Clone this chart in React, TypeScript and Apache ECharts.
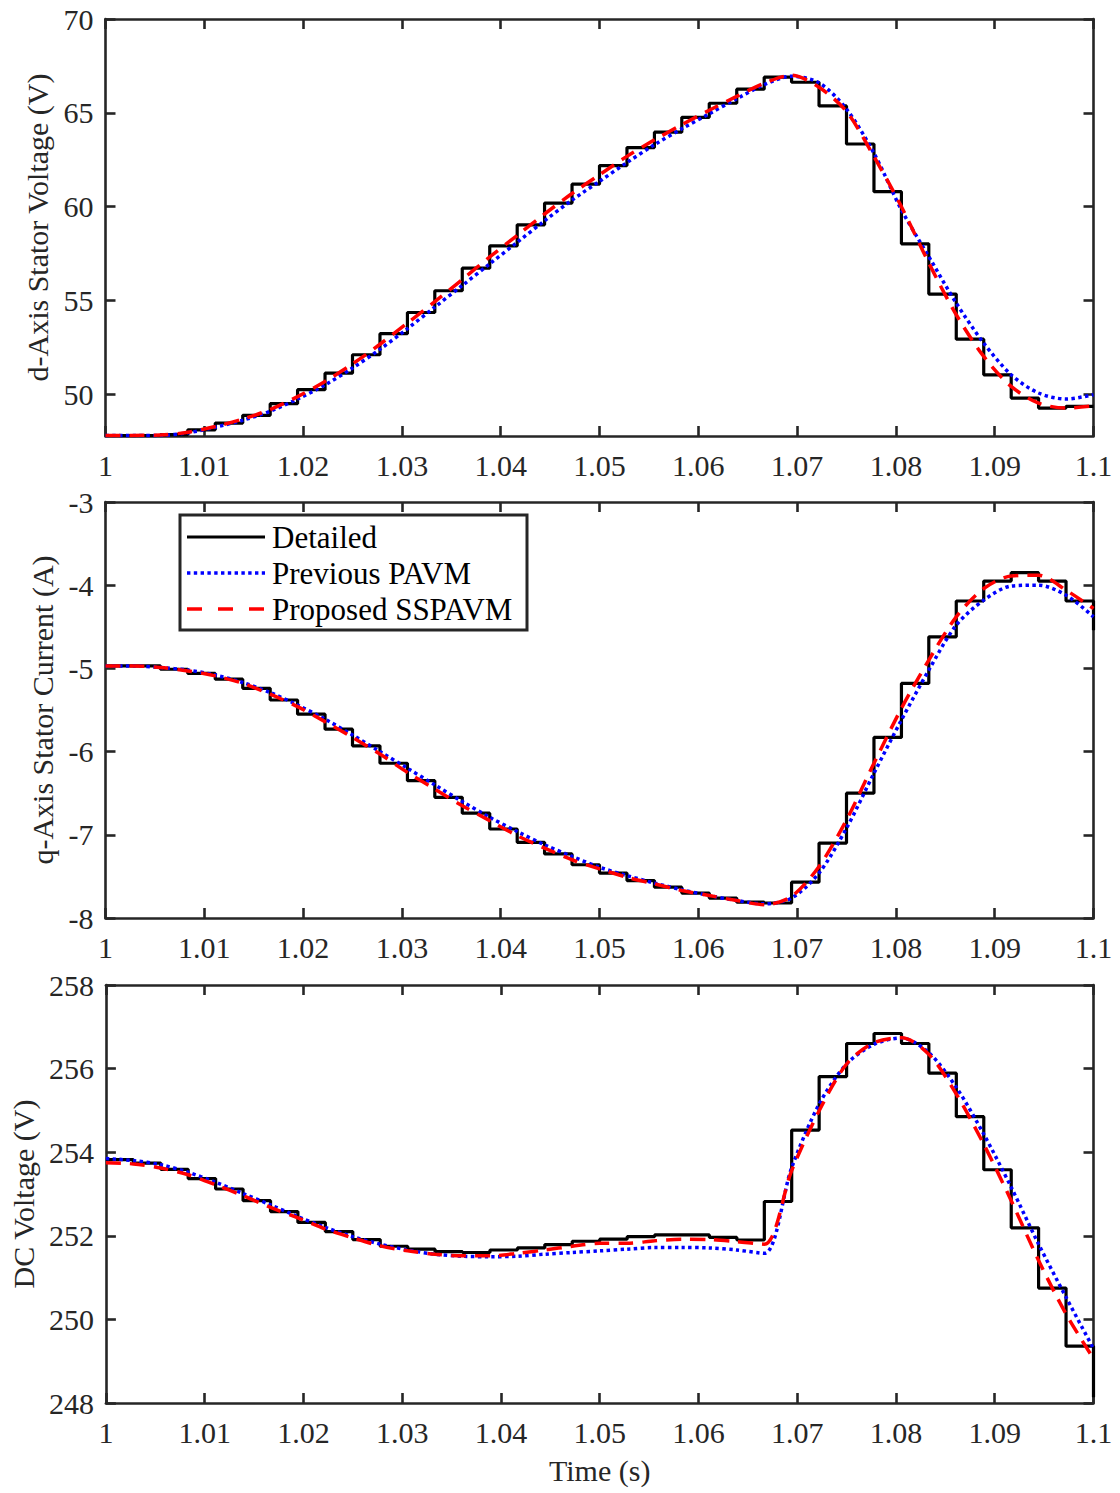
import React, { useEffect, useRef } from "react";
import * as echarts from "echarts";

// Sample times (s): one step every 1/360 s
const timeS = [
  1.0, 1.00278, 1.00556, 1.00833, 1.01111, 1.01389, 1.01667, 1.01944, 1.02222, 1.025,
  1.02778, 1.03056, 1.03333, 1.03611, 1.03889, 1.04167, 1.04444, 1.04722, 1.05, 1.05278,
  1.05556, 1.05833, 1.06111, 1.06389, 1.06667, 1.06944, 1.07222, 1.075, 1.07778, 1.08056,
  1.08333, 1.08611, 1.08889, 1.09167, 1.09444, 1.09722, 1.1,
];

// Panel 1: d-axis stator voltage (V)
const dDetailed = [
  47.8, 47.81, 47.85, 48.11, 48.47, 48.88, 49.5, 50.25, 51.13, 52.11, 53.23, 54.36, 55.52,
  56.72, 57.91, 59.03, 60.19, 61.2, 62.19, 63.15, 63.97, 64.76, 65.51, 66.26, 66.9, 66.63,
  65.37, 63.34, 60.8, 58.02, 55.34, 52.94, 51.04, 49.8, 49.27, 49.36, 49.36,
];
const dPrevious = [
  47.8, 47.8, 47.81, 47.95, 48.25, 48.62, 49.1, 49.75, 50.5, 51.4, 52.4, 53.5, 54.65, 55.8,
  56.95, 58.1, 59.25, 60.35, 61.35, 62.35, 63.3, 64.15, 64.95, 65.75, 66.5, 66.95, 66.6,
  65.2, 62.85, 59.83, 57.34, 54.86, 52.73, 51.04, 50.07, 49.75, 49.98,
];
const dProposed = [
  47.8, 47.81, 47.83, 47.98, 48.29, 48.68, 49.19, 49.88, 50.69, 51.62, 52.67, 53.8, 54.94,
  56.12, 57.32, 58.47, 59.61, 60.7, 61.7, 62.68, 63.56, 64.37, 65.14, 65.88, 66.58, 67.0,
  66.36, 65.07, 62.67, 60.0, 57.0, 54.24, 52.02, 50.42, 49.53, 49.27, 49.39,
];

// Panel 2: q-axis stator current (A)
const qDetailed = [
  -4.97, -4.97, -5.01, -5.06, -5.13, -5.24, -5.38, -5.55, -5.73, -5.93, -6.14, -6.35, -6.55,
  -6.74, -6.93, -7.09, -7.23, -7.36, -7.46, -7.55, -7.63, -7.7, -7.76, -7.81, -7.82, -7.57,
  -7.1, -6.5, -5.83, -5.18, -4.62, -4.19, -3.95, -3.85, -3.95, -4.19, -4.54,
];
const qPrevious = [
  -4.97, -4.97, -4.99, -5.02, -5.08, -5.17, -5.29, -5.44, -5.61, -5.8, -6.0, -6.2, -6.4,
  -6.6, -6.79, -6.96, -7.12, -7.26, -7.39, -7.49, -7.58, -7.66, -7.73, -7.79, -7.83, -7.76,
  -7.46, -6.92, -6.26, -5.62, -5.02, -4.48, -4.18, -4.01, -4.0, -4.12, -4.38,
];
const qProposed = [
  -4.97, -4.97, -4.99, -5.03, -5.09, -5.18, -5.31, -5.46, -5.64, -5.83, -6.03, -6.25, -6.45,
  -6.65, -6.83, -7.01, -7.16, -7.3, -7.41, -7.51, -7.59, -7.67, -7.73, -7.79, -7.84, -7.74,
  -7.38, -6.82, -6.14, -5.48, -4.9, -4.38, -4.04, -3.89, -3.88, -4.06, -4.28,
];

// Panel 3: DC voltage (V)
const vDetailed = [
  253.82, 253.74, 253.59, 253.37, 253.12, 252.84, 252.58, 252.32, 252.1, 251.91, 251.75,
  251.68, 251.62, 251.6, 251.66, 251.71, 251.79, 251.87, 251.92, 251.98, 252.02, 252.02,
  251.96, 251.9, 252.82, 254.53, 255.81, 256.6, 256.84, 256.6, 255.89, 254.85, 253.58,
  252.19, 250.75, 249.36, 248.14,
];
const vPrevious = [
  253.85, 253.8, 253.7, 253.52, 253.28, 253.01, 252.74, 252.46, 252.2, 251.98, 251.8,
  251.66, 251.56, 251.51, 251.5, 251.51, 251.56, 251.6, 251.64, 251.68, 251.72, 251.72,
  251.71, 251.66, 251.58, 253.63, 255.15, 256.11, 256.58, 256.73, 256.38, 255.55, 254.43,
  253.16, 251.8, 250.53, 249.3,
];
const vProposed = [
  253.75, 253.72, 253.62, 253.46, 253.22, 252.96, 252.68, 252.43, 252.16, 251.95, 251.76,
  251.64, 251.56, 251.52, 251.52, 251.58, 251.66, 251.75, 251.82, 251.82, 251.88, 251.92,
  251.91, 251.86, 251.8, 253.56, 254.99, 256.11, 256.62, 256.74, 256.34, 255.39, 254.19,
  252.84, 251.41, 250.13, 249.06,
];

// Axis ticks
const xTicks = [1, 1.01, 1.02, 1.03, 1.04, 1.05, 1.06, 1.07, 1.08, 1.09, 1.1];
const dTicks = [50, 55, 60, 65, 70];
const qTicks = [-8, -7, -6, -5, -4, -3];
const vTicks = [248, 250, 252, 254, 256, 258];

const seriesNames = ["Detailed", "Previous PAVM", "Proposed SSPAVM"];
const seriesColors = ["#000000", "#0000ff", "#ff0000"];
const yTitles = ["d-Axis Stator Voltage (V)", "q-Axis Stator Current (A)", "DC Voltage (V)"];
const xTitle = "Time (s)";

const FONT = "'Liberation Serif', 'Times New Roman', Times, serif";
const AX = "#262626";
const FS = 30;

export default function App() {
  const ref = useRef<HTMLDivElement>(null);

  useEffect(() => {
    if (!ref.current) return;
    const chart = echarts.init(ref.current, null, { renderer: "svg" });

    const panels = [
      { min: 47.78, max: 70, ticks: dTicks, gap: 50, data: [dDetailed, dPrevious, dProposed] },
      { min: -8, max: -3, ticks: qTicks, gap: 46, data: [qDetailed, qPrevious, qProposed] },
      { min: 248, max: 258, ticks: vTicks, gap: 64, data: [vDetailed, vPrevious, vProposed] },
    ];
    const grids = [
      { left: 105.5, right: 26.5, top: 19, height: 417 },
      { left: 105.5, right: 26.5, top: 502, height: 416 },
      { left: 105.5, right: 26.5, top: 985, height: 418 },
    ];

    const axisLine = { show: true, onZero: false, lineStyle: { color: AX, width: 2.6 } };
    const tickStyle = { color: AX, width: 2.6 };
    const fmtX = (v: number) => String(Math.round(v * 100) / 100);

    const lineStyles = [
      { color: seriesColors[0], width: 3.2 },
      { color: seriesColors[1], width: 3.5, type: [3.4, 3.4], cap: "butt" },
      { color: seriesColors[2], width: 3.5, type: [15, 9], cap: "butt" },
    ];

    const xAxis: any[] = [];
    const yAxis: any[] = [];
    const series: any[] = [];

    panels.forEach((p, i) => {
      xAxis.push({
        type: "value",
        gridIndex: i,
        position: "bottom",
        min: 1,
        max: 1.1,
        axisLine,
        axisTick: { show: true, inside: true, length: 10, lineStyle: tickStyle, customValues: xTicks },
        axisLabel: {
          show: true,
          customValues: xTicks,
          formatter: fmtX,
          fontFamily: FONT,
          fontSize: FS,
          color: AX,
          margin: 14,
        },
        splitLine: { show: false },
        name: i === 2 ? xTitle : "",
        nameLocation: "middle",
        nameGap: 52,
        nameTextStyle: { fontFamily: FONT, fontSize: FS, color: AX },
      });
      xAxis.push({
        type: "value",
        gridIndex: i,
        position: "top",
        min: 1,
        max: 1.1,
        axisLine,
        axisTick: { show: true, inside: true, length: 10, lineStyle: tickStyle, customValues: xTicks },
        axisLabel: { show: false },
        splitLine: { show: false },
      });
      yAxis.push({
        type: "value",
        gridIndex: i,
        position: "left",
        min: p.min,
        max: p.max,
        axisLine,
        axisTick: { show: true, inside: true, length: 10, lineStyle: tickStyle, customValues: p.ticks },
        axisLabel: {
          show: true,
          customValues: p.ticks,
          fontFamily: FONT,
          fontSize: FS,
          color: AX,
          margin: 12,
        },
        splitLine: { show: false },
        name: yTitles[i],
        nameLocation: "middle",
        nameRotate: 90,
        nameGap: p.gap,
        nameTextStyle: { fontFamily: FONT, fontSize: FS, color: AX },
      });
      yAxis.push({
        type: "value",
        gridIndex: i,
        position: "right",
        min: p.min,
        max: p.max,
        axisLine,
        axisTick: { show: true, inside: true, length: 10, lineStyle: tickStyle, customValues: p.ticks },
        axisLabel: { show: false },
        splitLine: { show: false },
      });

      const pts = (arr: number[]) => timeS.map((t, k) => [t, arr[k]]);
      [0, 1, 2].forEach((s) => {
        series.push({
          name: seriesNames[s],
          type: "line",
          xAxisIndex: 2 * i,
          yAxisIndex: 2 * i,
          step: s === 0 ? "end" : false,
          smooth: s === 0 ? false : 0.3,
          symbol: "none",
          data: pts(p.data[s]),
          lineStyle: lineStyles[s],
          itemStyle: { color: seriesColors[s] },
          z: 2 + s,
        });
      });
    });

    // Legend box drawn in the middle panel (upper left)
    const legX = 180;
    const legY = 515;
    const rowY = [537, 573, 609];
    const legendDash = [null, [3.4, 3.4], [15, 16]];
    const legendChildren: any[] = [
      {
        type: "rect",
        shape: { x: legX, y: legY, width: 347, height: 115 },
        style: { fill: "#ffffff", stroke: AX, lineWidth: 3 },
      },
    ];
    seriesNames.forEach((n, s) => {
      legendChildren.push({
        type: "line",
        shape: { x1: 187, y1: rowY[s], x2: 265, y2: rowY[s] },
        style: {
          stroke: seriesColors[s],
          lineWidth: s === 0 ? 3.2 : 3.5,
          lineDash: legendDash[s] || undefined,
          lineCap: "butt",
        },
      });
      legendChildren.push({
        type: "text",
        x: 272,
        y: rowY[s],
        style: {
          text: n,
          fontFamily: FONT,
          fontSize: 31,
          fill: "#000000",
          align: "left",
          verticalAlign: "middle",
        },
      });
    });

    chart.setOption({
      animation: false,
      backgroundColor: "#ffffff",
      grid: grids,
      xAxis,
      yAxis,
      series,
      graphic: [{ type: "group", z: 100, children: legendChildren }],
    });

    return () => chart.dispose();
  }, []);

  return (
    <div
      ref={ref}
      style={{ position: "absolute", left: 0, top: 0, width: 1120, height: 1493 }}
    />
  );
}
